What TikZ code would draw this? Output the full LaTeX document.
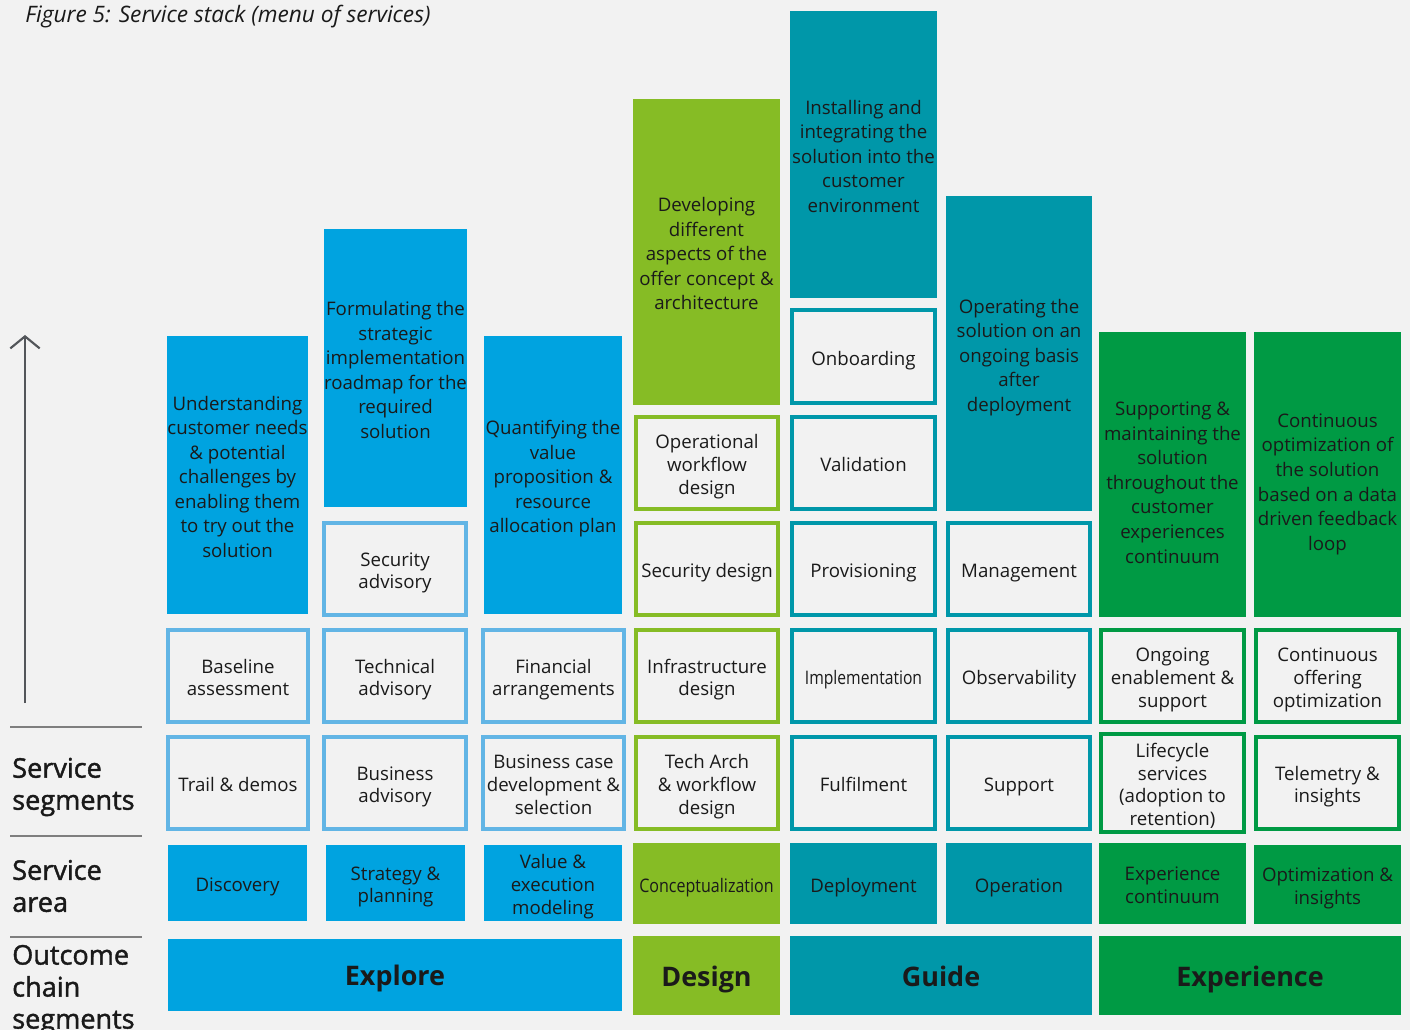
\documentclass[tikz,border=0pt]{standalone}
\usepackage{fontspec}
\usepackage{graphicx}
\setmainfont{Open Sans}
\IfFontExistsTF{Open Sans SemiBold}{\newfontfamily\semibf{Open Sans SemiBold}}{\newfontfamily\semibf{Open Sans}[FakeBold=1.5]}
\usetikzlibrary{arrows.meta}
\definecolor{bgc}{HTML}{F2F2F2}
\definecolor{blueF}{HTML}{00A3E0}
\definecolor{blueL}{HTML}{62B5E5}
\definecolor{lgreen}{HTML}{86BC25}
\definecolor{teal}{HTML}{0097A9}
\definecolor{dgreen}{HTML}{009A44}
\definecolor{rulegray}{HTML}{7F7F7F}
\definecolor{arrgray}{HTML}{53565A}
\definecolor{txt}{HTML}{1A1A1A}

% extra room above the first line, so the text sits like the original
\def\gapextra{6pt}
\newcommand{\topgap}{\rule{0pt}{\dimexpr0.7\baselineskip+\gapextra\relax}}

% name, style, x1, y1, x2, y2, text  (pixel coordinates)
\newcommand{\stackbox}[7]{%
  \pgfmathsetmacro{\bw}{(#5-#3)*0.75}%
  \pgfmathsetmacro{\bh}{(#6-#4)*0.75}%
  \node[#2, minimum width=\bw pt, minimum height=\bh pt] (#1) at ({(#3+#5)/2},{(#4+#6)/2}) {\topgap#7\strut};}

\begin{document}
\begin{tikzpicture}[x=0.75pt,y=-0.75pt,
    every node/.append style={text=txt},
    topgap/.code={\def\gapextra{#1}},
    fillbox/.style={fill=#1, draw=none, inner sep=0pt, align=center,
      font=\fontsize{14}{18.4}\selectfont},
    outbox/.style={fill=bgc, draw=#1, line width=3pt, inner sep=0pt, align=center,
      font=\fontsize{14}{16.9}\selectfont},
    areabox/.style={fill=#1, draw=none, inner sep=0pt, align=center,
      font=\fontsize{14}{16.9}\selectfont},
    chainbox/.style={fill=#1, draw=none, inner sep=0pt, topgap=7pt,
      font=\fontsize{20.2}{22}\selectfont\bfseries},
    sidelabel/.style={anchor=west, align=left, inner sep=0pt,
      font=\fontsize{20.3}{24}\semibf}]
  \fill[bgc] (0,0) rectangle (1410,1030);
  \useasboundingbox (0,0) rectangle (1410,1030);

  \node[anchor=west, inner sep=0pt, font=\fontsize{17}{18}\selectfont\itshape] (title) at (25,17) {Figure 5: Service stack (menu of services)};

  % left side
  \coordinate (arrbot) at (25,703);
  \coordinate (arrtop) at (25,335);
  \draw[arrgray, line width=1.6pt, -{Straight Barb[length=9pt,width=22pt,line width=1.6pt]}] (arrbot) -- (arrtop);
  \draw[rulegray, line width=1.6pt] (10,727) -- (142,727);
  \draw[rulegray, line width=1.6pt] (10,836) -- (142,836);
  \draw[rulegray, line width=1.6pt] (10,937) -- (142,937);
  \node[sidelabel] (lsegm) at (12,787) {Service\\segments};
  \node[sidelabel] (larea) at (12,886) {Service\\area};
  \node[sidelabel] (lchain) at (12,990) {Outcome\\chain\\segments};

  % Explore
  \stackbox{undst}{fillbox=blueF}{168}{336}{307}{614}{Understanding\\customer needs\\\& potential\\challenges by\\enabling them\\to try out the\\solution}
  \stackbox{formul}{fillbox=blueF}{326}{229}{465}{507}{Formulating the\\strategic\\implementation\\roadmap for the\\required\\solution}
  \stackbox{quant}{fillbox=blueF}{484}{336}{622}{614}{Quantifying the\\value\\proposition \&\\resource\\allocation plan}
  \stackbox{secadv}{outbox=blueL}{324}{523}{466}{615}{Security\\advisory}
  \stackbox{basel}{outbox=blueL}{168}{630}{308}{722}{Baseline\\assessment}
  \stackbox{techadv}{outbox=blueL}{324}{630}{466}{722}{Technical\\advisory}
  \stackbox{finarr}{outbox=blueL}{483}{630}{624}{722}{Financial\\arrangements}
  \stackbox{trail}{outbox=blueL}{168}{737}{308}{829}{Trail \& demos}
  \stackbox{busadv}{outbox=blueL}{324}{737}{466}{829}{Business\\advisory}
  \stackbox{buscase}{outbox=blueL}{483}{737}{624}{829}{Business case\\development \&\\selection}
  \stackbox{disc}{areabox=blueF}{168}{845}{307}{921}{Discovery}
  \stackbox{strat}{areabox=blueF}{326}{845}{465}{921}{Strategy \&\\planning}
  \stackbox{valexe}{areabox=blueF}{484}{845}{622}{921}{Value \&\\execution\\modeling}
  \stackbox{explore}{chainbox=blueF}{168}{939}{622}{1011}{Explore}

  % Design
  \stackbox{devel}{fillbox=lgreen}{633}{99}{780}{405}{Developing\\different\\aspects of the\\offer concept \&\\architecture}
  \stackbox{opwork}{outbox=lgreen}{636}{417}{778}{509}{Operational\\workflow\\design}
  \stackbox{secdes}{outbox=lgreen}{636}{523}{778}{615}{Security design}
  \stackbox{infra}{outbox=lgreen}{636}{630}{778}{722}{Infrastructure\\design}
  \stackbox{techarch}{outbox=lgreen}{636}{737}{778}{829}{Tech Arch\\\& workflow\\design}
  \stackbox{concept}{areabox=lgreen}{633}{843}{780}{924}{\scalebox{0.86}[1]{Conceptualization}}
  \stackbox{design}{chainbox=lgreen}{633}{936}{780}{1015}{Design}

  % Guide
  \stackbox{install}{fillbox=teal}{790}{11}{937}{298}{Installing and\\integrating the\\solution into the\\customer\\environment}
  \stackbox{operat}{fillbox=teal}{946}{196}{1092}{511}{Operating the\\solution on an\\ongoing basis\\after\\deployment}
  \stackbox{onboard}{outbox=teal}{792}{310}{935}{403}{Onboarding}
  \stackbox{valid}{outbox=teal}{792}{417}{935}{509}{Validation}
  \stackbox{prov}{outbox=teal}{792}{523}{935}{615}{Provisioning}
  \stackbox{manage}{outbox=teal}{948}{523}{1090}{615}{Management}
  \stackbox{impl}{outbox=teal}{792}{630}{935}{722}{\scalebox{0.84}[1]{Implementation}}
  \stackbox{observ}{outbox=teal}{948}{630}{1090}{722}{Observability}
  \stackbox{fulfil}{outbox=teal}{792}{737}{935}{829}{Fulfilment}
  \stackbox{supp}{outbox=teal}{948}{737}{1090}{829}{Support}
  \stackbox{deploy}{areabox=teal}{790}{843}{937}{924}{Deployment}
  \stackbox{oper}{areabox=teal}{946}{843}{1092}{924}{Operation}
  \stackbox{guide}{chainbox=teal}{790}{936}{1092}{1015}{Guide}

  % Experience
  \stackbox{suppmain}{fillbox=dgreen, topgap=15pt}{1099}{332}{1246}{617}{Supporting \&\\maintaining the\\solution\\throughout the\\customer\\experiences\\continuum}
  \stackbox{contopt}{fillbox=dgreen, topgap=14pt}{1254}{332}{1401}{617}{Continuous\\optimization of\\the solution\\based on a data\\driven feedback\\loop}
  \stackbox{ongoing}{outbox=dgreen}{1101}{630}{1244}{722}{Ongoing\\enablement \&\\support}
  \stackbox{contoff}{outbox=dgreen}{1256}{630}{1399}{722}{Continuous\\offering\\optimization}
  \stackbox{lifecyc}{outbox=dgreen}{1101}{737}{1244}{829}{Lifecycle\\services\\(adoption to\\retention)}
  \stackbox{telem}{outbox=dgreen}{1256}{737}{1399}{829}{Telemetry \&\\insights}
  \stackbox{expcont}{areabox=dgreen}{1099}{843}{1246}{924}{Experience\\continuum}
  \stackbox{optins}{areabox=dgreen}{1254}{845}{1401}{924}{Optimization \&\\insights}
  \stackbox{experience}{chainbox=dgreen}{1099}{936}{1401}{1015}{Experience}
\end{tikzpicture}
\end{document}
